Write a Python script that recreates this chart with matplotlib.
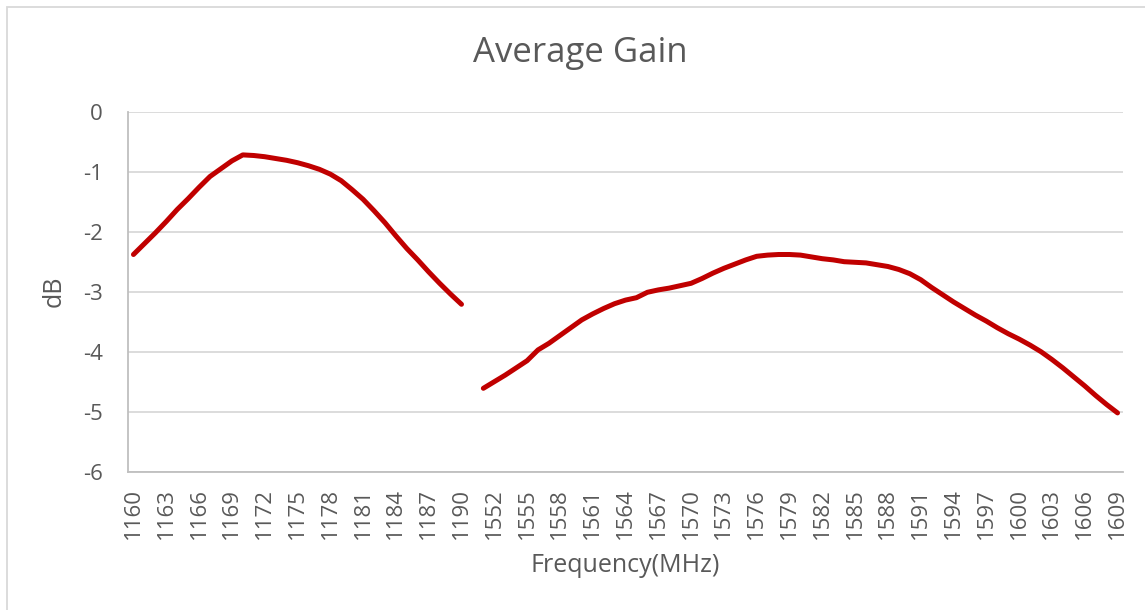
import matplotlib

matplotlib.use("Agg")

import matplotlib.pyplot as plt  # noqa: E402
import numpy as np  # noqa: E402
from matplotlib.patches import Rectangle  # noqa: E402

plt.rcParams["font.family"] = ["Open Sans", "DejaVu Sans"]
plt.rcParams["axes.unicode_minus"] = False

# L-band segment (MHz) and gain (dB)
band1_freq = list(range(1160, 1191))
band1_gain = [
    -2.38, -2.20, -2.02, -1.83, -1.63, -1.45, -1.26, -1.08, -0.95, -0.82,
    -0.72, -0.73, -0.75, -0.78, -0.81, -0.85, -0.90, -0.96, -1.04, -1.15,
    -1.30, -1.46, -1.65, -1.85, -2.07, -2.28, -2.47, -2.67, -2.86, -3.04,
    -3.21,
]

# upper segment (MHz) and gain (dB)
band2_freq = list(range(1551, 1610))
band2_gain = [
    -4.61, -4.50, -4.39, -4.27, -4.15, -3.97, -3.86, -3.73, -3.60, -3.47,
    -3.37, -3.28, -3.20, -3.14, -3.10, -3.01, -2.97, -2.94, -2.90, -2.86,
    -2.78, -2.69, -2.61, -2.54, -2.47, -2.41, -2.39, -2.38, -2.38, -2.39,
    -2.42, -2.45, -2.47, -2.50, -2.51, -2.52, -2.55, -2.58, -2.63, -2.70,
    -2.80, -2.93, -3.05, -3.17, -3.28, -3.39, -3.49, -3.60, -3.70, -3.79,
    -3.89, -4.00, -4.13, -4.27, -4.42, -4.57, -4.73, -4.88, -5.02,
]

# one empty category separates the two bands on the category axis
categories = [str(f) for f in band1_freq] + [""] + [str(f) for f in band2_freq]
x_all = np.arange(len(categories))
x_band1 = x_all[: len(band1_freq)]
x_band2 = x_all[len(band1_freq) + 1:]

TEXT = "#595959"
GRID = "#d9d9d9"
LINE = "#c00000"

fig = plt.figure(figsize=(11.45, 6.10), dpi=100)
ax = fig.add_axes([128 / 1145, 1 - 471.7 / 610, 995 / 1145, 360 / 610])

ax.plot(x_band1, band1_gain, color=LINE, linewidth=3.6, solid_capstyle="round",
        solid_joinstyle="round")
ax.plot(x_band2, band2_gain, color=LINE, linewidth=3.6, solid_capstyle="round",
        solid_joinstyle="round")

ax.set_xlim(-0.5, len(categories) - 0.5)
ax.set_ylim(-6, 0)
ax.set_yticks(range(-6, 1))
ax.set_xticks(x_all[::3])
ax.set_xticklabels(categories[::3], rotation=90)
ax.tick_params(axis="both", length=0, colors=TEXT, labelsize=16)
ax.tick_params(axis="y", pad=18)
ax.tick_params(axis="x", pad=12)

ax.grid(axis="y", color=GRID, linewidth=1.3)
ax.set_axisbelow(True)
for side in ("top", "right"):
    ax.spines[side].set_visible(False)
for side in ("left", "bottom"):
    ax.spines[side].set_color("#bfbfbf")
    ax.spines[side].set_linewidth(1.3)

ax.set_xlabel("Frequency(MHz)", color=TEXT, fontsize=18, labelpad=10)
ax.set_ylabel("dB", color=TEXT, fontsize=18, labelpad=12)
fig.text(580 / 1145, 1 - 53 / 610, "Average Gain", color=TEXT, fontsize=25,
         ha="center", va="center")

# chart area border
fig.patches.append(Rectangle((6.7 / 1145, -0.01), 1.1, 1 - 7.3 / 610 + 0.01,
                             transform=fig.transFigure, fill=False,
                             edgecolor="#d9d9d9", linewidth=1.3))

fig.savefig("out.png", dpi=100)
